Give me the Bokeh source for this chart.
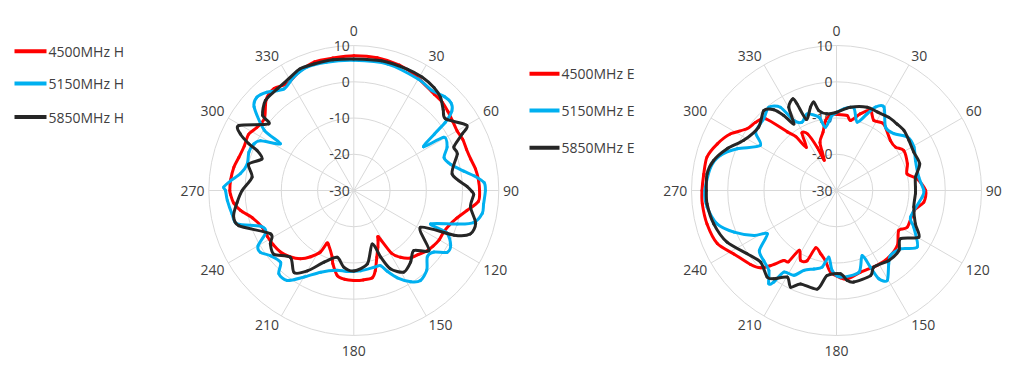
import math
from bokeh.plotting import figure
from bokeh.models import Range1d
from bokeh.core.properties import value
from bokeh.embed import file_html
from bokeh.resources import INLINE

# ---------------- data (angle in degrees, gain in dB) ----------------
rings_db = [-20, -10, 0, 10]
radial_ticks = [10, 0, -10, -20, -30]
angle_ticks = list(range(0, 360, 30))

series_left = ["4500MHz H", "5150MHz H", "5850MHz H"]
series_right = ["4500MHz E", "5150MHz E", "5850MHz E"]
colors = ["#ff0000", "#00b0f0", "#262626"]

h4500_ang = [0, 10, 20, 28, 40, 45, 50, 55, 60, 65, 70, 75, 80, 85, 90, 95, 100, 105, 110, 115, 120, 125, 130, 135, 140, 145,
             149, 152, 154, 157, 161, 165, 168, 174, 180, 186, 191, 196, 198, 205, 207, 208.5, 213, 218, 224, 230, 236, 242,
             248, 255, 260, 264, 268, 270, 275, 281, 286, 292, 298, 303, 309, 316, 322, 328, 335, 343, 351, 360]
h4500_db = [7.2, 7.2, 6.8, 6.0, 4.6, 4.5, 3.9, 3.3, 2.9, 3.2, 3.1, 3.4, 4.1, 4.5, 4.7, 4.5, 1.7, -0.6, -2.0, -2.7, -2.8, -3.3, -3.9, -5.0, -5.7, -7.5,
            -9.8, -15.5, -14.7, -13.0, -10.5, -7.1, -5.4, -5.2, -5.2, -5.4, -6.1, -9.0, -10.7, -13.5, -13.7, -10.7, -8.2, -6.1, -4.6, -3.6, -3.2, -3.0,
            -2.8, -1.0, 1.7, 3.3, 4.0, 4.2, 4.1, 3.7, 3.0, 2.6, 2.9, 1.9, 1.7, 4.8, 5.7, 4.7, 6.0, 7.1, 7.0, 7.2]

h5150_ang = [0, 15, 30, 38, 44, 48, 51, 53.3, 55, 58, 59.5, 65, 70, 75, 80, 83, 86.5, 90, 96, 100, 105, 108, 113.5, 114.5, 119.5,
             123.5, 127.5, 132, 137.5, 143.5, 148, 153.5, 157.5, 160.5, 165, 175, 185, 192, 202, 210, 216.5, 222, 225.5, 232,
             236.5, 240, 244.5, 249, 254, 259, 265.5, 270, 271.5, 274.5, 278.5, 284, 290, 295, 298, 302.5, 304, 310, 314,
             318.5, 325.5, 332, 339, 348, 360]
h5150_db = [5.9, 6.1, 5.5, 5.0, 6.0, 6.1, 4.8, 1.5, -2.9, -7.3, -1.1, -1.6, -3.5, -2.3, 0.8, 3.4, 6.0, 6.3, 6.0, 6.0, 4.2, 0.0, -6.9, -1.8, 0.7,
            0.9, -2.1, -2.7, -0.2, 0.9, -0.3, -3.1, -5.9, -8.0, -8.1, -7.8, -7.6, -7.5, -5.7, -2.4, 0.9, 0.9, -1.7, -0.8,
            0.9, 0.5, -3.1, -2.5, 3.5, 4.2, 5.0, 5.4, 5.9, 4.1, 1.6, 0.3, 0.8, 0.4, -0.8, -6.0, -0.2, 5.9, 7.1,
            6.2, 4.0, 5.4, 6.4, 6.2, 5.9]

h5850_ang = [0, 12, 24, 31, 38, 43, 48, 52, 60, 62.5, 66.5, 70.5, 80.5, 88, 90.5, 92, 98, 105, 110.5, 114, 119, 128.5, 135, 141.5,
             148.5, 155, 158, 161, 169.5, 180, 187.5, 194, 202.5, 210, 216, 223.5, 231.5, 237.5, 242.5, 253, 258, 264, 270,
             277.5, 284, 289, 292.5, 294, 296.5, 299.5, 308, 309.5, 315.5, 323, 330, 336, 342.5, 351, 360]
h5850_db = [6.3, 6.6, 6.6, 6.5, 6.0, 5.1, 3.2, 2.1, 6.0, 3.7, 0.1, 0.3, -2.5, 1.3, 2.6, 3.1, 2.5, 4.8, 4.3, 0.3, -9.0, -3.5, -6.6, -4.8,
            -3.6, -6.2, -10.2, -14.4, -9.4, -7.8, -8.7, -11.0, -8.6, -4.4, -2.0, -4.6, -1.8, -2.7, -4.1, 3.2, 3.9, 2.4, 0.8,
            -1.7, -0.1, -3.2, -1.1, 1.7, 5.0, 6.4, -0.2, 2.6, 4.8, 5.1, 5.7, 6.7, 6.6, 6.5, 6.3]

e4500_ang = [0, 8, 11.3, 17.4, 23, 28, 35.4, 47, 53.7, 59.3, 69.3, 76.7, 81.8, 90, 97.6, 104.5, 117.4, 122.7, 132, 141.9, 151.5,
             163.6, 173, 177.4, 184.2, 189, 194, 200, 202.7, 207.2, 212, 214, 217, 221.3, 224.5, 229.3, 238.3, 246, 255.5,
             264.3, 270, 277, 284.5, 291.4, 298, 304.6, 310, 315.3, 320, 323, 325, 329, 333, 336, 338, 341, 347, 351, 356, 360]
e4500_db = [-9.0, -9.1, -10.3, -7.8, -6.0, -8.1, -7.5, -9.7, -9.8, -8.4, -9.1, -10.0, -7.5, -5.4, -5.7, -7.9, -8.0, -9.6, -7.4, -6.6, -6.5,
            -6.5, -5.4, -5.9, -7.4, -10.4, -12.0, -13.2, -9.0, -8.3, -10.6, -6.3, -5.8, -2.4, -0.1, 1.3, 3.3, 6.0, 6.9,
            7.2, 7.1, 6.9, 6.9, 5.3, 3.2, 0.0, -0.8, -2.1, -8.9, -11.5, -15.5, -11.5, -12.5, -17.0, -21.0, -16.0, -13.5, -10.5, -9.0, -9.0]

e5150_ang = [0, 5, 11.8, 16.8, 21.8, 25, 29.6, 37.7, 45.3, 53, 60.7, 69.2, 80.8, 90, 94.4, 109.8, 115.4, 125, 132.3, 140.3, 144.5,
             150.6, 154.4, 156.1, 158.5, 164.7, 177.4, 183.1, 186.6, 190.6, 196, 202.2, 206.7, 212.8, 214.4, 216, 220.2, 226,
             232, 238, 241.4, 247.9, 254.4, 262.7, 270, 280.5, 286.8, 292.8, 300.6, 305.8, 314.6, 320.9, 326, 328.5, 333.3,
             339, 346.5, 350, 356, 360]
e5150_db = [-8.5, -7.4, -6.7, -10.3, -7.2, -4.6, -3.5, -7.9, -7.7, -5.5, -5.5, -6.7, -7.0, -5.9, -6.3, -8.3, -6.4, -2.8, -6.1, -6.7, -5.2,
            -1.5, -3.0, -6.8, -10.7, -6.6, -6.1, -7.9, -11.5, -8.5, -7.5, -6.2, -3.8, -3.2, 0.6, 1.8, -1.1, -2.1,
            -3.0, -7.5, -4.1, 0.5, 4.2, 6.0, 6.3, 5.3, 3.5, -0.3, -5.6, -2.5, -1.8, -0.4, -2.3, -7.3, -8.9,
            -7.4, -9.2, -12.3, -9.5, -8.5]

e5850_ang = [0, 9.5, 20.2, 27.4, 35.5, 42.3, 48.3, 55.3, 63.6, 72.3, 80.4, 87.6, 92, 102, 112.9, 119.5, 127, 133.9, 143.2, 154,
             158.2, 169.3, 173.2, 177.3, 186.3, 191, 201, 205.4, 209.6, 215.4, 218.7, 226.7, 234.7, 244.7, 254.8, 264.1, 270,
             277.3, 283.7, 290.9, 298.4, 309.2, 317.7, 322.2, 324.9, 327.4, 330.2, 334.5, 335.5, 337, 342.7, 345.6, 347.5,
             353, 360]
e5850_db = [-8.4, -6.7, -5.5, -5.6, -5.2, -5.2, -5.1, -5.7, -6.2, -5.9, -7.9, -8.2, -8.2, -8.2, -6.4, -3.9, -7.9, -6.1, -5.9, -6.5,
            -4.7, -4.3, -5.0, -7.0, -6.4, -2.3, -2.4, -0.5, -2.5, -0.1, 0.6, -1.2, 0.2, 3.4, 5.1, 5.9, 5.9,
            6.0, 4.9, 2.3, -0.9, -2.3, -0.2, -1.8, -4.7, -8.2, -3.5, -2.0, -3.7, -8.7, -5.9, -4.8, -7.4,
            -8.7, -8.4]

left_data = [(h4500_ang, h4500_db), (h5150_ang, h5150_db), (h5850_ang, h5850_db)]
right_data = [(e4500_ang, e4500_db), (e5150_ang, e5150_db), (e5850_ang, e5850_db)]

# ---------------- layout ----------------
W, H = 1008, 369
R_MIN, R_MAX, RADIUS = -30.0, 10.0, 145.0
FONT = value("Open Sans")
TXT = "#404040"
GRID = "#d9d9d9"

p = figure(width=W, height=H, x_range=Range1d(0, W), y_range=Range1d(H, 0),
           output_backend="svg", toolbar_location=None, min_border=0,
           x_axis_type=None, y_axis_type=None)
p.grid.visible = False
p.outline_line_color = None


def rad(db):
    return (db - R_MIN) / (R_MAX - R_MIN) * RADIUS


def polar_xy(cx, cy, ang, dbs):
    xs, ys = [], []
    for a, d in zip(ang, dbs):
        t = math.radians(a)
        r = rad(d)
        xs.append(cx + r * math.sin(t))
        ys.append(cy - r * math.cos(t))
    return xs, ys


def smooth_line(xs, ys, color):
    # closed curve (first point == last point): Catmull-Rom style smoothing via bezier segments
    px, py = xs[:-1], ys[:-1]
    n = len(px)
    k = 0.8
    x0, y0, x1, y1, c0x, c0y, c1x, c1y = [], [], [], [], [], [], [], []
    for i in range(n):
        im, ip, ip2 = (i - 1) % n, (i + 1) % n, (i + 2) % n
        x0.append(px[i]); y0.append(py[i])
        x1.append(px[ip]); y1.append(py[ip])
        c0x.append(px[i] + (px[ip] - px[im]) / 6 * k)
        c0y.append(py[i] + (py[ip] - py[im]) / 6 * k)
        c1x.append(px[ip] - (px[ip2] - px[i]) / 6 * k)
        c1y.append(py[ip] - (py[ip2] - py[i]) / 6 * k)
    p.bezier(x0=x0, y0=y0, x1=x1, y1=y1, cx0=c0x, cy0=c0y, cx1=c1x, cy1=c1y,
             line_color=color, line_width=3, line_cap="round")


def polar_chart(cx, cy, data):
    p.circle([cx] * len(rings_db), [cy] * len(rings_db), radius=[rad(d) for d in rings_db],
             fill_color=None, line_color=GRID, line_width=1)
    x0, y0, x1, y1 = [], [], [], []
    for a in angle_ticks:
        t = math.radians(a)
        x0.append(cx); y0.append(cy)
        x1.append(cx + RADIUS * math.sin(t)); y1.append(cy - RADIUS * math.cos(t))
    p.segment(x0, y0, x1, y1, line_color=GRID, line_width=1)
    p.text([cx - 4] * len(radial_ticks), [cy - rad(v) for v in radial_ticks], text=[str(v) for v in radial_ticks],
           text_align="right", text_baseline="middle", text_font=FONT, text_font_size="14px", text_color=TXT)
    lx, ly, lt = [], [], []
    D = 149.0
    for a in angle_ticks:
        t = math.radians(a)
        s, c = math.sin(t), math.cos(t)
        w = len(str(a)) * 8.2
        sx = 0 if abs(s) < 1e-6 else (1 if s > 0 else -1)
        sy = 0 if abs(c) < 1e-6 else (1 if c > 0 else -1)
        hh = 11 if sx == 0 else 5
        lx.append(cx + D * s + w / 2 * sx)
        ly.append(cy - D * c - hh * sy)
        lt.append(str(a))
    p.text(lx, ly, text=lt, text_align="center", text_baseline="middle",
           text_font=FONT, text_font_size="14px", text_color=TXT)
    for (ang, dbs), col in zip(data, colors):
        xs, ys = polar_xy(cx, cy, ang, dbs)
        smooth_line(xs, ys, col)


def legend(x0, x1, ys, names):
    for y, n, col in zip(ys, names, colors):
        p.segment([x0], [y], [x1], [y], line_color=col, line_width=4)
    p.text([x1 + 2] * len(names), ys, text=names, text_align="left", text_baseline="middle",
           text_font=FONT, text_font_size="14px", text_color=TXT)


polar_chart(353.3, 190.0, left_data)
polar_chart(836.0, 190.0, right_data)
legend(14, 46, [50.7, 83.0, 116.5], series_left)
legend(529, 559, [73.3, 110.0, 147.3], series_right)

open("out.html", "w").write(file_html(p, INLINE))
